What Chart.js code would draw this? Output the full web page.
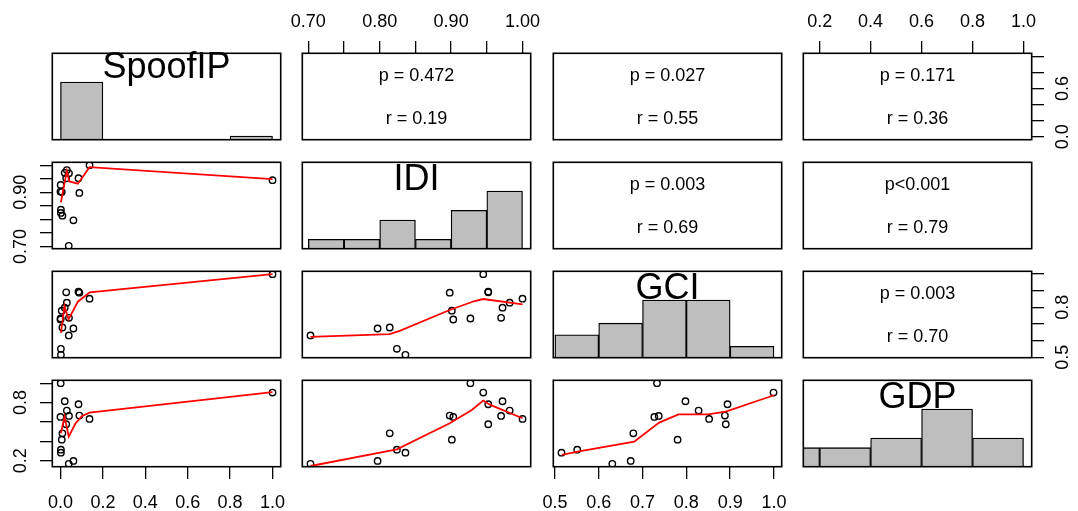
<!DOCTYPE html>
<html>
<head>
<meta charset="utf-8">
<script src="https://cdn.jsdelivr.net/npm/chart.js@4.4.1/dist/chart.umd.min.js"></script>
<style>
  html, body { margin: 0; padding: 0; background: #fff; }
  body { position: relative; width: 1078px; height: 511px; overflow: hidden; }
  canvas { position: absolute; }
</style>
</head>
<body>
<script>
const varNames = ["SpoofIP", "IDI", "GCI", "GDP"];
const spoofIP = [0.039, 0.061, 0.009, 0.002, 0.002, 0.089, 0.006, 0.000, 0.001, 1.000, 0.085, 0.027, 0.040, 0.020, 0.030, 0.137];
const idi     = [0.703, 0.797, 0.814, 0.824, 0.836, 0.898, 0.901, 0.903, 0.927, 0.945, 0.952, 0.952, 0.970, 0.972, 0.982, 1.000];
const gci     = [0.631, 0.673, 0.679, 0.551, 0.515, 0.888, 0.780, 0.727, 0.733, 0.999, 0.894, 0.890, 0.737, 0.798, 0.828, 0.852];
const gdp     = [0.168, 0.197, 0.483, 0.314, 0.283, 0.666, 0.417, 0.652, 1.000, 0.903, 0.783, 0.576, 0.662, 0.814, 0.717, 0.631];

// histograms (breaks, counts)
const spoofBreaks = [0, 0.2, 0.4, 0.6, 0.8, 1.0];
const spoofCounts = [15, 0, 0, 0, 1];
const idiBreaks = [0.70, 0.75, 0.80, 0.85, 0.90, 0.95, 1.00];
const idiCounts = [1, 1, 3, 1, 4, 6];
const gciBreaks = [0.5, 0.6, 0.7, 0.8, 0.9, 1.0];
const gciCounts = [2, 3, 5, 5, 1];
const gdpBreaks = [0, 0.2, 0.4, 0.6, 0.8, 1.0];
const gdpCounts = [2, 2, 3, 6, 3];

// smoother lines (red)
const loessSpoofIdi = [[0.002, 0.863], [0.030, 0.979], [0.042, 0.940], [0.082, 0.932], [0.137, 0.993], [1.0, 0.949]];
const loessSpoofGci = [[0.002, 0.647], [0.019, 0.808], [0.038, 0.727], [0.082, 0.834], [0.138, 0.890], [1.0, 0.999]];
const loessSpoofGdp = [[0.002, 0.483], [0.019, 0.655], [0.039, 0.448], [0.071, 0.586], [0.102, 0.662], [0.137, 0.697], [1.0, 0.907]];
const loessIdiGci = [[0.703, 0.623], [0.814, 0.639], [0.828, 0.659], [0.898, 0.784], [0.933, 0.838], [0.945, 0.850], [1.0, 0.818]];
const loessIdiGdp = [[0.703, 0.145], [0.824, 0.317], [0.898, 0.586], [0.929, 0.724], [0.945, 0.821], [0.955, 0.776], [1.0, 0.638]];
const loessGciGdp = [[0.516, 0.259], [0.552, 0.293], [0.681, 0.397], [0.738, 0.593], [0.782, 0.679], [0.849, 0.679], [0.890, 0.707], [1.0, 0.876]];

// upper panel texts: (1,2) (1,3) (1,4) (2,3) (2,4) (3,4)
const pLabels = ["p = 0.472", "p = 0.027", "p = 0.171", "p = 0.003", "p<0.001", "p = 0.003"];
const rLabels = ["r = 0.19", "r = 0.55", "r = 0.36", "r = 0.69", "r = 0.79", "r = 0.70"];

// tick positions and which labels are printed
const spoofTicks = [0, 0.2, 0.4, 0.6, 0.8, 1.0];
const idiTicks = [0.70, 0.75, 0.80, 0.85, 0.90, 0.95, 1.00];
const gciTicks = [0.5, 0.6, 0.7, 0.8, 0.9, 1.0];
const gdpTicks = [0.2, 0.4, 0.6, 0.8, 1.0];
const spoofXLabels = ["0.0", "0.2", "0.4", "0.6", "0.8", "1.0"];
const idiXLabels = ["0.70", "0.80", "0.90", "1.00"];
const gciXLabels = ["0.5", "0.6", "0.7", "0.8", "0.9", "1.0"];
const gdpXLabels = ["0.2", "0.4", "0.6", "0.8", "1.0"];
const spoofYLabels = ["0.0", "0.6"];
const idiYLabels = ["0.70", "0.90"];
const gciYLabels = ["0.5", "0.8"];
const gdpYLabels = ["0.2", "0.8"];

// ---- layout ----
const colLeft = [52, 302, 553, 803];
const rowTop = [53, 162, 271, 380];
const W = 229, H = 87, M = 50;
const FONT = "'Liberation Sans', Arial, Helvetica, sans-serif";

Chart.defaults.font.family = FONT;
Chart.defaults.font.size = 18;
Chart.defaults.color = "#000";

const vars = [spoofIP, idi, gci, gdp];
const ticksOf = [spoofTicks, idiTicks, gciTicks, gdpTicks];
const decimals = [1, 2, 1, 1];
const xShown = [spoofXLabels, idiXLabels, gciXLabels, gdpXLabels];
const yShown = [spoofYLabels, idiYLabels, gciYLabels, gdpYLabels];
const hists = [[spoofBreaks, spoofCounts], [idiBreaks, idiCounts], [gciBreaks, gciCounts], [gdpBreaks, gdpCounts]];
const loessByPanel = {
    "1-0": loessSpoofIdi, "2-0": loessSpoofGci, "3-0": loessSpoofGdp,
    "2-1": loessIdiGci, "3-1": loessIdiGdp, "3-2": loessGciGdp
};
const upperOrder = ["0-1", "0-2", "0-3", "1-2", "1-3", "2-3"];

const measureCtx = document.createElement("canvas").getContext("2d");
measureCtx.font = "18px " + FONT;

// R style range: data range stretched by 4% each side
function rangeOf(v) {
    const lo = Math.min(...v), hi = Math.max(...v), d = (hi - lo) * 0.04;
    return [lo - d, hi + d];
}

function axisScale(k, axis, pos, shown) {
    const [lo, hi] = rangeOf(vars[k]);
    const dec = decimals[k];
    const s = {
        type: "linear", min: lo, max: hi, offset: false,
        display: !!pos,
        position: pos || (axis === "x" ? "bottom" : "left"),
        border: { display: false },
        grid: { drawOnChartArea: false, drawTicks: true, tickLength: 12, color: "#000", lineWidth: 1.3, offset: false },
        ticks: {
            autoSkip: false,
            callback: v => { const t = Number(v).toFixed(dec); return shown.includes(t) ? t : ""; }
        },
        afterBuildTicks: sc => { sc.ticks = ticksOf[k].map(value => ({ value })); },
        afterFit: sc => {
            if (!pos) return;
            if (axis === "x") sc.height = M; else sc.width = M;
        }
    };
    if (axis === "x") {
        s.ticks.minRotation = 0;
        s.ticks.maxRotation = 0;
        s.ticks.padding = pos === "top" ? 8 : 13;
    } else {
        const widest = Math.max(...shown.map(t => measureCtx.measureText(t).width));
        s.ticks.minRotation = 90;
        s.ticks.maxRotation = 90;
        s.ticks.crossAlign = "center";
        s.ticks.padding = Math.max(0, 19 - widest / 2);
    }
    return s;
}

function panelDecor(title, pText, rText) {
    return {
        id: "panelDecor",
        afterDraw(chart) {
            const { ctx, chartArea: a } = chart;
            ctx.save();
            ctx.fillStyle = "#000";
            ctx.textAlign = "center";
            if (title) {
                ctx.font = "36px " + FONT;
                const m = ctx.measureText(title);
                const asc = m.actualBoundingBoxAscent, desc = m.actualBoundingBoxDescent;
                ctx.textBaseline = "alphabetic";
                ctx.fillText(title, (a.left + a.right) / 2, a.top + 15 + (asc - desc) / 2);
            }
            if (pText) {
                ctx.font = "18px " + FONT;
                ctx.textBaseline = "middle";
                ctx.fillText(pText, (a.left + a.right) / 2, a.top + a.height * 0.26);
                ctx.fillText(rText, (a.left + a.right) / 2, a.top + a.height * 0.76);
            }
            ctx.strokeStyle = "#000";
            ctx.lineWidth = 1.6;
            ctx.strokeRect(a.left + 0.3, a.top + 0.3, a.width - 0.6, a.height - 0.6);
            ctx.restore();
        }
    };
}

function buildPanel(r, c) {
    const canvas = document.createElement("canvas");
    canvas.width = W + 2 * M;
    canvas.height = H + 2 * M;
    canvas.style.left = (colLeft[c] - M) + "px";
    canvas.style.top = (rowTop[r] - M) + "px";
    document.body.appendChild(canvas);

    const xPos = (r === 3 && c % 2 === 0) ? "bottom" : (r === 0 && c % 2 === 1) ? "top" : null;
    const yPos = (c === 0 && r % 2 === 1) ? "left" : (c === 3 && r % 2 === 0) ? "right" : null;
    const key = r + "-" + c;

    const datasets = [];
    let yScale;
    let title = null, pText = null, rText = null;

    if (r === c) {
        const [br, ct] = hists[c];
        yScale = { type: "linear", min: 0, max: Math.max(...ct) * 1.5, display: false, offset: false };
        datasets.push({
            type: "bar",
            data: ct.map((n, i) => ({ x: (br[i] + br[i + 1]) / 2, y: n })),
            backgroundColor: "#bebebe",
            borderColor: "#000",
            borderWidth: 1.3,
            borderSkipped: false,
            categoryPercentage: 1,
            barPercentage: 1,
            clip: 0
        });
        title = varNames[c];
    } else {
        yScale = axisScale(r, "y", yPos, yShown[r]);
        if (r > c) {
            datasets.push({
                type: "line",
                data: loessByPanel[key].map(([x, y]) => ({ x, y })),
                borderColor: "#ff0000",
                borderWidth: 1.8,
                pointRadius: 0,
                fill: false,
                tension: 0
            });
            datasets.push({
                type: "scatter",
                data: vars[c].map((x, i) => ({ x, y: vars[r][i] })),
                pointRadius: 3.2,
                borderWidth: 1.4,
                borderColor: "#000",
                backgroundColor: "rgba(0,0,0,0)"
            });
        } else {
            const k = upperOrder.indexOf(key);
            pText = pLabels[k];
            rText = rLabels[k];
        }
    }

    new Chart(canvas, {
        type: "scatter",
        data: { datasets },
        options: {
            responsive: false,
            animation: false,
            events: [],
            devicePixelRatio: 1,
            layout: {
                padding: {
                    left: yPos === "left" ? 0 : M,
                    right: yPos === "right" ? 0 : M,
                    top: xPos === "top" ? 0 : M,
                    bottom: xPos === "bottom" ? 0 : M
                }
            },
            plugins: { legend: { display: false }, tooltip: { enabled: false } },
            scales: {
                x: axisScale(c, "x", xPos, xShown[c]),
                y: yScale
            }
        },
        plugins: [panelDecor(title, pText, rText)]
    });
}

for (let r = 0; r < 4; r++) {
    for (let c = 0; c < 4; c++) {
        buildPanel(r, c);
    }
}
</script>
</body>
</html>
